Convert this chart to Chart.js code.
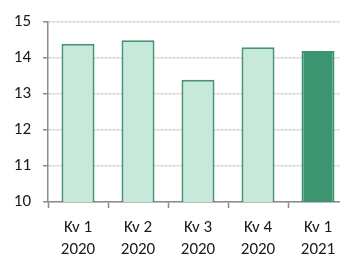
<!DOCTYPE html>
<html>
<head>
<meta charset="utf-8">
<script src="https://cdn.jsdelivr.net/npm/chart.js@4/dist/chart.umd.min.js"></script>
<style>
  html, body { margin: 0; padding: 0; background: #fff; overflow: hidden; }
  #wrap { position: relative; width: 350px; height: 257px; }
</style>
</head>
<body>
<div id="wrap"><canvas id="c"></canvas></div>
<script>
const categories = [["Kv 1", "2020"], ["Kv 2", "2020"], ["Kv 3", "2020"], ["Kv 4", "2020"], ["Kv 1", "2021"]];
const values = [14.4, 14.5, 13.4, 14.3, 14.2];
const yTicks = [10, 11, 12, 13, 14, 15];

const lightFill = "#c7e9da";
const darkFill = "#3b9571";
const edge = "#4a9274";

const FONT = "Carlito, Calibri, 'Liberation Sans', sans-serif";

new Chart(document.getElementById("c"), {
  type: "bar",
  data: {
    labels: categories,
    datasets: [{
      data: values,
      backgroundColor: values.map((v, i) => i === values.length - 1 ? darkFill : lightFill),
      borderColor: values.map((v, i) => i === values.length - 1 ? darkFill : edge),
      borderWidth: 2,
      borderSkipped: "bottom",
      barPercentage: 0.55,
      categoryPercentage: 1
    }]
  },
  options: {
    responsive: true,
    maintainAspectRatio: false,
    animation: false,
    devicePixelRatio: 1,
    layout: { padding: { top: 19, right: 2, left: 0, bottom: 0 } },
    plugins: { legend: { display: false }, tooltip: { enabled: false } },
    scales: {
      x: {
        grid: { display: true, drawOnChartArea: false, drawTicks: true, tickLength: 6, tickColor: "#8c8c8c", tickWidth: 1.5, offset: true },
        border: { display: true, color: "#8c8c8c", width: 1.5 },
        ticks: { color: "#1a1a1a", font: { family: FONT, size: 17, lineHeight: 1.34 }, padding: 8, maxRotation: 0, autoSkip: false },
        afterFit: s => { s.height = 55; }
      },
      y: {
        min: 10, max: 15,
        afterBuildTicks: s => { s.ticks = yTicks.map(v => ({ value: v })); },
        grid: { color: "#d2d2d2", lineWidth: 1.5, drawTicks: true, tickLength: 5, tickColor: "#8c8c8c", tickWidth: 1.5 },
        border: { display: true, color: "#8c8c8c", width: 1.5, dash: [3, 1] },
        ticks: { color: "#1a1a1a", font: { family: FONT, size: 17 }, padding: 12 },
        afterFit: s => { s.width = 48; }
      }
    }
  }
});
</script>
</body>
</html>
